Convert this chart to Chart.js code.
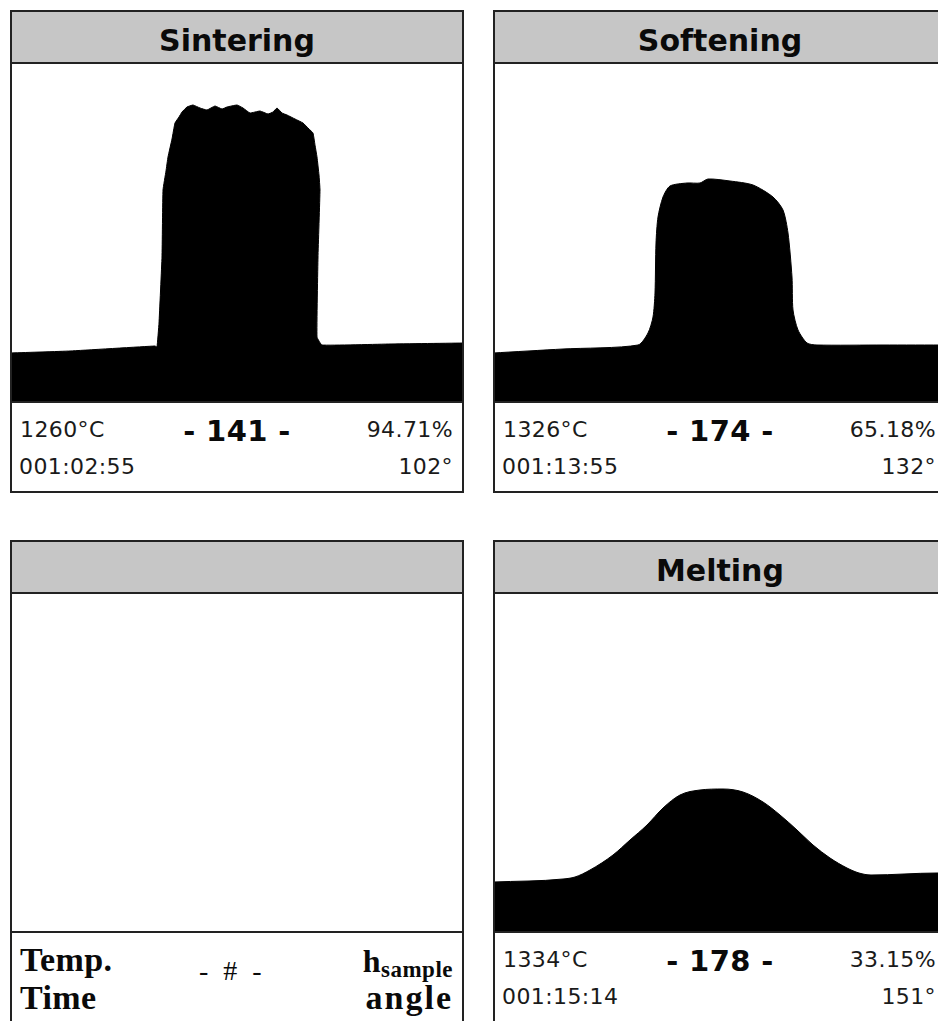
<!DOCTYPE html>
<html>
<head>
<meta charset="utf-8">
<script src="https://cdn.jsdelivr.net/npm/chart.js@4.4.0/dist/chart.umd.min.js"></script>
<style>
  html, body { margin: 0; padding: 0; background: #fff; width: 938px; height: 1021px; overflow: hidden; }
  .panel { position: absolute; width: 454px; height: 483px; border: 2px solid #222; box-sizing: border-box; background: #fff; }
  .head { height: 52px; background: #c6c6c6; border-bottom: 2px solid #222; box-sizing: border-box;
          font: bold 30px "DejaVu Sans", sans-serif; text-align: center; line-height: 57px; color: #0a0a0a; }
  .img { position: relative; height: 337px; }
  .foot { position: relative; height: 90px; border-top: 2px solid #222; box-sizing: border-box;
          font: 22px "DejaVu Sans", sans-serif; color: #1a1a1a; letter-spacing: 0.4px; }
  .foot span { position: absolute; white-space: nowrap; line-height: 1; }
  .l1 { left: 8px; top: 16px; }
  .l2 { left: 7px; top: 53px; }
  .r1 { right: 9px; top: 16px; }
  .r2 { right: 9px; top: 53px; }
  .mid { left: 0; right: 0; text-align: center; top: 14px; font: bold 29px "DejaVu Sans", sans-serif; color: #0a0a0a; }
  .serif { font-family: "Liberation Serif", serif; font-weight: bold; color: #0a0a0a; }
</style>
</head>
<body>
<div class="panel" style="left:10px; top:10px;">
  <div class="head">Sintering</div>
  <div class="img"><canvas id="c1" width="450" height="337"></canvas></div>
  <div class="foot">
    <span class="l1">1260°C</span><span class="l2">001:02:55</span>
    <span class="mid">- 141 -</span>
    <span class="r1">94.71%</span><span class="r2">102°</span>
  </div>
</div>
<div class="panel" style="left:493px; top:10px;">
  <div class="head">Softening</div>
  <div class="img"><canvas id="c2" width="450" height="337"></canvas></div>
  <div class="foot">
    <span class="l1">1326°C</span><span class="l2">001:13:55</span>
    <span class="mid">- 174 -</span>
    <span class="r1">65.18%</span><span class="r2">132°</span>
  </div>
</div>
<div class="panel" style="left:10px; top:540px;">
  <div class="head"></div>
  <div class="img"></div>
  <div class="foot">
    <span class="serif" style="left:8px; top:10px; font-size:34px;">Temp.</span>
    <span class="serif" style="left:8px; top:48px; font-size:34px;">Time</span>
    <span class="serif" style="left:187px; top:24px; font-size:28px; font-weight:normal; letter-spacing:4px;">- # -</span>
    <span class="serif" style="right:9px; top:12px; font-size:32px;">h<sub style="font-size:23px; vertical-align:-5px; letter-spacing:0.5px;">sample</sub></span>
    <span class="serif" style="right:9px; top:48px; font-size:34px; letter-spacing:2px;">angle</span>
  </div>
</div>
<div class="panel" style="left:493px; top:540px;">
  <div class="head">Melting</div>
  <div class="img"><canvas id="c4" width="450" height="337"></canvas></div>
  <div class="foot">
    <span class="l1">1334°C</span><span class="l2">001:15:14</span>
    <span class="mid">- 178 -</span>
    <span class="r1">33.15%</span><span class="r2">151°</span>
  </div>
</div>
<script>
// silhouette outlines: x across the picture, height above the bottom of the image frame
const sinterX = [0, 60, 145, 147, 149, 152, 153, 156, 158, 162, 165, 169, 172, 177, 183, 190, 197, 205, 212, 217, 227, 233, 240, 250, 258, 263, 267, 272, 277, 285, 293, 299, 303, 305, 307, 309, 310, 308, 307, 312, 380, 455];
const sinterH = [48, 50, 55, 54, 78, 144, 211, 230, 244, 262, 278, 284, 289, 294, 296, 293, 291, 295, 292, 294, 296, 293, 288, 290, 287, 289, 293, 288, 286, 282, 278, 272, 268, 256, 244, 226, 211, 144, 64, 56, 57, 58];

const softX = [0, 70, 145, 155, 160, 162, 163, 165, 170, 177, 194, 207, 215, 237, 260, 280, 290, 295, 299, 300, 305, 314, 324, 390, 455];
const softH = [48, 52, 56, 68, 84, 108, 158, 184, 204, 215, 218, 218, 222, 220, 216, 204, 191, 168, 124, 91, 71, 58, 56, 56, 56];

const meltX = [0, 70, 82, 97, 120, 137, 154, 170, 187, 207, 230, 250, 270, 287, 304, 320, 337, 354, 366, 378, 444, 455];
const meltH = [49, 52, 54, 61, 76, 91, 106, 123, 136, 141, 142, 139, 129, 116, 101, 86, 73, 63, 58, 56, 58, 58];

function drawSample(id, xs, hs, tension, mode) {
    const pts = xs.map((x, i) => ({ x: x, y: hs[i] }));
    new Chart(document.getElementById(id), {
        type: 'line',
        data: {
            datasets: [{
                data: pts,
                fill: 'start',
                backgroundColor: '#000',
                borderColor: '#000',
                borderWidth: 1,
                pointRadius: 0,
                tension: tension,
                cubicInterpolationMode: mode
            }]
        },
        options: {
            responsive: false,
            animation: false,
            layout: { padding: 0 },
            plugins: { legend: { display: false }, tooltip: { enabled: false } },
            scales: {
                x: { type: 'linear', min: 2, max: 452, display: false },
                y: { min: 0, max: 337, display: false }
            }
        }
    });
}

drawSample('c1', sinterX, sinterH, 0.1, 'default');
drawSample('c2', softX, softH, 0.25, 'default');
drawSample('c4', meltX, meltH, 0.4, 'monotone');
</script>
</body>
</html>
